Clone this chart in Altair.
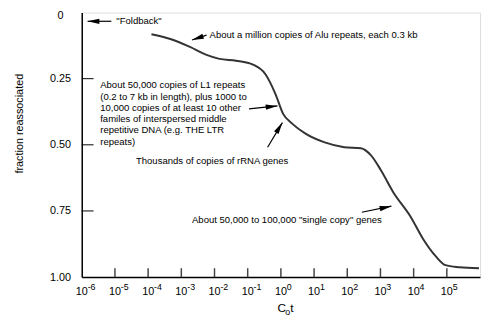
import math
import altair as alt
import pandas as pd

FONT = "Liberation Sans"

# ---- curve data (Cot vs fraction reassociated) ----
cot = [1.26e-4, 4.68e-4, 1.82e-3, 5.75e-3, 1.41e-2, 4.47e-2, 0.145, 0.347, 0.692,
       1.17, 2.19, 5.37, 20.9, 81.3, 257, 513, 1023, 2455, 7943, 19055, 46774,
       91201, 239883, 933254]
frac = [0.082, 0.100, 0.130, 0.160, 0.175, 0.182, 0.197, 0.234, 0.309, 0.383,
        0.420, 0.457, 0.491, 0.509, 0.513, 0.539, 0.595, 0.680, 0.770, 0.855,
        0.922, 0.955, 0.963, 0.967]

# ---- axis tick data ----
decades = [-6, -5, -4, -3, -2, -1, 0, 1, 2, 3, 4, 5]
exponent_labels = ["-6", "-5", "-4", "-3", "-2", "-1", "0", "1", "2", "3", "4", "5"]
y_ticks = [0, 0.25, 0.5, 0.75, 1.0]
y_inner_ticks = [0.25, 0.5, 0.75]

# ---- annotations ----
ann_text = [
    '"Foldback"',
    "About a million copies of Alu repeats, each 0.3 kb",
    "About 50,000 copies of L1 repeats\n(0.2 to 7 kb in length), plus 1000 to\n10,000 copies of at least 10 other\nfamiles of interspersed middle\nrepetitive DNA (e.g. THE LTR\nrepeats)",
    "Thousands of copies of rRNA genes",
    'About 50,000 to 100,000 "single copy" genes',
]
ann_x = [1.10e-5, 7.1e-3, 3.6e-6, 4.3e-5, 2.1e-3]
ann_y = [0.033, 0.0855, 0.275, 0.563, 0.784]

# arrows: tail -> tip
arr_x1 = [7.8e-6, 5.75e-3, 0.110, 0.398, 275]
arr_y1 = [0.033, 0.0855, 0.364, 0.509, 0.755]
arr_x2 = [1.5e-6, 2.1e-3, 0.79, 1.11, 2140]
arr_y2 = [0.033, 0.104, 0.353, 0.416, 0.732]

W, H = 405, 269
XDOM = [1e-6, 1e6]

X_AXIS = alt.Axis(labels=False, ticks=False, grid=False, title=None,
                  domainColor="black", domainWidth=1.5)
Y_AXIS = alt.Axis(values=y_ticks, ticks=False, grid=False, title=None,
                  labelExpr="datum.value == 0 ? '0' : format(datum.value, '.2f')",
                  labelAlign="center", labelBaseline="middle", labelPadding=22,
                  labelOffset={"condition": {"test": "datum.value == 0", "value": 3}, "value": 0},
                  labelFontSize=11, labelFont=FONT, labelColor="black",
                  labelFlush=False, domainColor="black", domainWidth=1.5)


def X(field):
    return alt.X(field, type="quantitative",
                 scale=alt.Scale(type="log", domain=XDOM, nice=False),
                 axis=X_AXIS)


def Y(field):
    return alt.Y(field, type="quantitative",
                 scale=alt.Scale(domain=[0, 1], reverse=True, nice=False, zero=False),
                 axis=Y_AXIS)


curve_df = pd.DataFrame({"cot": cot, "frac": frac})

curve = alt.Chart(curve_df).mark_line(
    interpolate="monotone", color="#333333", strokeWidth=2
).encode(x=X("cot"), y=Y("frac"))

yt_df = pd.DataFrame({"frac": y_inner_ticks})
ytick_layer = alt.Chart(yt_df).mark_rule(color="black", strokeWidth=1).encode(
    y=Y("frac"), x=alt.value(0), x2=alt.value(12))

xt_df = pd.DataFrame({"cot": [10.0 ** d for d in decades[1:]]})
xtick_layer = alt.Chart(xt_df).mark_rule(color="#444444", strokeWidth=1.5).encode(
    x=X("cot"), y=alt.value(H), y2=alt.value(H - 9))

xl_df = pd.DataFrame({"cot": [10.0 ** d for d in decades],
                      "base": ["10"] * len(decades),
                      "exp": exponent_labels})
xlab_base = alt.Chart(xl_df).mark_text(
    font=FONT, fontSize=11, align="center", baseline="middle", color="black"
).encode(x=X("cot"), y=alt.value(H + 15), text="base:N")
xlab_exp = alt.Chart(xl_df).mark_text(
    font=FONT, fontSize=9, align="left", baseline="middle", dx=6, color="black"
).encode(x=X("cot"), y=alt.value(H + 10), text="exp:N")

# axis titles
ytitle = alt.Chart(pd.DataFrame({"t": ["fraction reassociated"]})).mark_text(
    font=FONT, fontSize=11, angle=270, align="center", baseline="middle", color="black"
).encode(x=alt.value(-63), y=alt.value(113), text="t:N")
xt_C = alt.Chart(pd.DataFrame({"t": ["C"]})).mark_text(
    font=FONT, fontSize=12, align="left", baseline="middle", color="black"
).encode(x=alt.value(199), y=alt.value(301), text="t:N")
xt_o = alt.Chart(pd.DataFrame({"t": ["o"]})).mark_text(
    font=FONT, fontSize=9, align="left", baseline="middle", color="black"
).encode(x=alt.value(207), y=alt.value(305), text="t:N")
xt_t = alt.Chart(pd.DataFrame({"t": ["t"]})).mark_text(
    font=FONT, fontSize=12, align="left", baseline="middle", color="black"
).encode(x=alt.value(212), y=alt.value(301), text="t:N")

ann_df = pd.DataFrame({"x": ann_x, "y": ann_y, "text": ann_text})
ann_layer = alt.Chart(ann_df).mark_text(
    font=FONT, fontSize=9.7, align="left", baseline="middle", color="black",
    lineBreak="\n", lineHeight=11.5
).encode(x=X("x"), y=Y("y"), text="text:N")

angles = []
for a, b, c, d in zip(arr_x1, arr_y1, arr_x2, arr_y2):
    dx = (math.log10(c) - math.log10(a)) * W / 12.0
    dy = (d - b) * H
    angles.append(math.degrees(math.atan2(dx, -dy)) % 360)
arr_df = pd.DataFrame({"x1": arr_x1, "y1": arr_y1, "x2": arr_x2, "y2": arr_y2, "ang": angles})
arr_lines = alt.Chart(arr_df).mark_rule(color="black", strokeWidth=1.2).encode(
    x=X("x1"), y=Y("y1"), x2="x2", y2="y2")
arr_heads = alt.Chart(arr_df).mark_point(
    shape="M0,0L0.45,2L-0.45,2Z", filled=True, color="black", opacity=1, size=144,
    strokeWidth=0
).encode(x=X("x2"), y=Y("y2"), angle=alt.Angle("ang:Q", scale=None))

chart = alt.layer(
    curve, ytick_layer, xtick_layer, xlab_base, xlab_exp,
    ytitle, xt_C, xt_o, xt_t, ann_layer, arr_lines, arr_heads
).properties(
    width=W, height=H,
    autosize=alt.AutoSizeParams(type="none"),
    padding={"left": 75, "top": 2, "right": 1, "bottom": 40},
).configure_view(
    stroke="#777777", strokeWidth=1.5
).configure(font=FONT)

chart.save("out.html", embed_options={"renderer": "svg", "actions": False})
